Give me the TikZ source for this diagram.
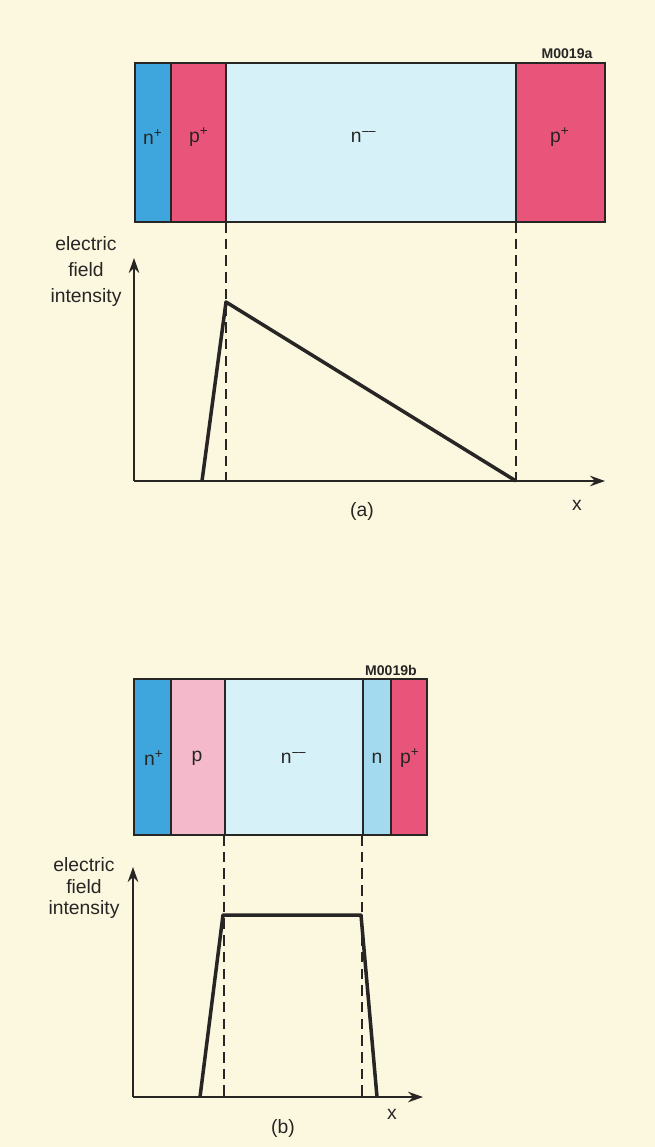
\documentclass[tikz,border=0pt]{standalone}
\usepackage{fontspec}
\setmainfont{Liberation Sans}
\usetikzlibrary{arrows.meta, positioning}
\definecolor{paper}{RGB}{252,248,224}
\definecolor{ink}{RGB}{40,38,36}
\definecolor{nplus}{RGB}{62,166,220}
\definecolor{pplus}{RGB}{232,84,122}
\definecolor{nmm}{RGB}{214,242,248}
\definecolor{pweak}{RGB}{244,186,204}
\definecolor{nweak}{RGB}{164,218,240}

\begin{document}
\begin{tikzpicture}[x=0.02cm, y=-0.02cm,
  layer/.style={draw=ink, line width=1.1pt, fill=#1},
  lbl/.style={font=\fontsize{11}{13}\selectfont, text=ink},
  ylbl/.style={font=\fontsize{11}{#1}\selectfont, text=ink, align=center},
  tag/.style={font=\fontsize{8}{9}\selectfont\bfseries, text=ink},
  axis/.style={draw=ink, line width=1.1pt, -{Stealth[length=8.5pt, width=6pt]}},
  field/.style={draw=ink, line width=2pt, line join=round},
  guide/.style={draw=ink, line width=1pt, dash pattern=on 6pt off 3.5pt}
]
  \fill[paper] (0,0) rectangle (655,1147);
  \useasboundingbox (0,0) rectangle (655,1147);

  % Structure (a)
  \draw[layer=nplus] (135,63) rectangle (171,222);
  \draw[layer=pplus] (171,63) rectangle (226,222);
  \draw[layer=nmm] (226,63) rectangle (516,222);
  \draw[layer=pplus] (516,63) rectangle (605,222);
  \node[lbl] (na1) at (153,137) {n\textsuperscript{+}};
  \node[lbl] (pa1) at (199,137) {p\textsuperscript{+}};
  \node[lbl] (na2) at (364,137) {n\textsuperscript{−\kern-0.1em−}};
  \node[lbl] (pa2) at (560,137) {p\textsuperscript{+}};
  \node[tag] (taga) at (567,54) {M0019a};

  % Field profile (a)
  \coordinate (oa) at (134,481);
  \coordinate (ya) at (134,258);
  \coordinate (xa) at (605,481);
  \coordinate (ja) at (226,222);
  \coordinate (jb) at (516,222);
  \draw[guide] (ja) -- (ja |- oa);
  \draw[guide] (jb) -- (jb |- oa);
  \draw[field] (202,481) -- (226,302) -- (jb |- oa);
  \draw[axis] (oa) -- (ya);
  \draw[axis] (oa) -- (xa);
  \node[ylbl=14.8pt] (ela) at (86,271) {electric\\field\\intensity};
  \node[lbl] (xla) at (577,505) {x};
  \node[lbl] (capa) at (362,511) {(a)};

  % Structure (b)
  \draw[layer=nplus] (134,679) rectangle (171,835);
  \draw[layer=pweak] (171,679) rectangle (225,835);
  \draw[layer=nmm] (225,679) rectangle (363,835);
  \draw[layer=nweak] (363,679) rectangle (391,835);
  \draw[layer=pplus] (391,679) rectangle (427,835);
  \node[lbl] (nb1) at (154,758) {n\textsuperscript{+}};
  \node[lbl] (pb1) at (197,758) {p};
  \node[lbl] (nb2) at (294,758) {n\textsuperscript{−\kern-0.1em−}};
  \node[lbl] (nb3) at (377,758) {n};
  \node[lbl] (pb2) at (410,758) {p\textsuperscript{+}};
  \node[tag] (tagb) at (391,670) {M0019b};

  % Field profile (b)
  \coordinate (ob) at (133,1097);
  \coordinate (yb) at (133,867);
  \coordinate (xb) at (423,1097);
  \coordinate (jc) at (224,835);
  \coordinate (jd) at (362,835);
  \draw[guide] (jc) -- (jc |- ob);
  \draw[guide] (jd) -- (jd |- ob);
  \draw[field] (200,1097) -- (223,915) -- (361,915) -- (377,1097);
  \draw[axis] (ob) -- (yb);
  \draw[axis] (ob) -- (xb);
  \node[ylbl=12pt] (elb) at (84,888) {electric\\field\\intensity};
  \node[lbl] (xlb) at (392,1114) {x};
  \node[lbl] (capb) at (283,1128) {(b)};
\end{tikzpicture}
\end{document}
